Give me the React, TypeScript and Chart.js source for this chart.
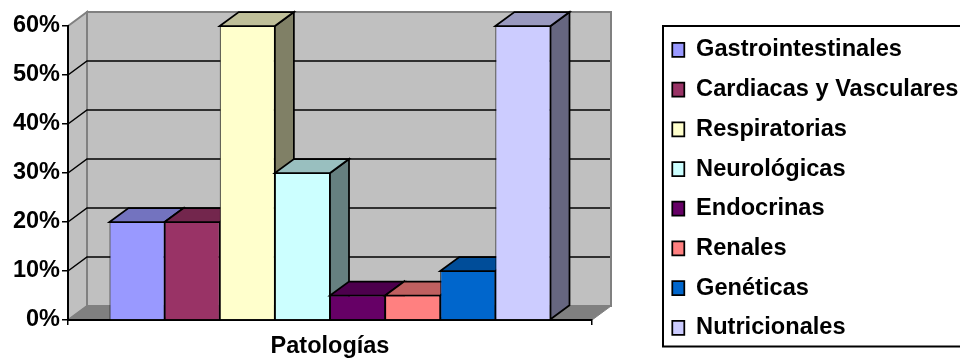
import React, { useEffect, useRef } from "react";
import { Chart, registerables } from "chart.js";

Chart.register(...registerables);

const categories = ["Patologías"];
const seriesNames = [
  "Gastrointestinales",
  "Cardiacas y Vasculares",
  "Respiratorias",
  "Neurológicas",
  "Endocrinas",
  "Renales",
  "Genéticas",
  "Nutricionales",
];
const seriesValues = [20, 20, 60, 30, 5, 5, 10, 60];
const seriesColors = ["#9999FF", "#993366", "#FFFFCC", "#CCFFFF", "#660066", "#FF8080", "#0066CC", "#CCCCFF"];

const FONT_FAMILY = '"Liberation Sans", Arial, sans-serif';
const AXIS_FONT = { family: FONT_FAMILY, weight: "bold" as const, size: 23.5 };
const LEGEND_FONT = { family: FONT_FAMILY, weight: "bold" as const, size: 23.6 };
const DEPTH_X = 19;
const DEPTH_Y = 14;
const WALL = "#C0C0C0";
const WALL_EDGE = "#808080";
const FLOOR = "#808080";

function shade(hex: string, k: number) {
  const n = parseInt(hex.slice(1), 16);
  const c = [(n >> 16) & 255, (n >> 8) & 255, n & 255].map((v) => Math.round(v * k));
  return `rgb(${c[0]},${c[1]},${c[2]})`;
}

function poly(ctx: CanvasRenderingContext2D, pts: number[][], fill: string, stroke: string, lw: number) {
  ctx.beginPath();
  pts.forEach(([x, y], i) => (i ? ctx.lineTo(x, y) : ctx.moveTo(x, y)));
  ctx.closePath();
  ctx.fillStyle = fill;
  ctx.fill();
  ctx.strokeStyle = stroke;
  ctx.lineWidth = lw;
  ctx.stroke();
}

// Back wall, side wall, floor and the gridlines that run over them.
function drawWalls(chart: any) {
  const { ctx, chartArea: a, scales } = chart;
  const dx = DEPTH_X;
  const dy = DEPTH_Y;
  ctx.save();
  poly(ctx, [[a.left + dx, a.top - dy], [a.right + dx, a.top - dy], [a.right + dx, a.bottom - dy], [a.left + dx, a.bottom - dy]], WALL, WALL_EDGE, 2);
  poly(ctx, [[a.left, a.top], [a.left + dx, a.top - dy], [a.left + dx, a.bottom - dy], [a.left, a.bottom]], WALL, WALL_EDGE, 2);
  poly(ctx, [[a.left, a.bottom], [a.left + dx, a.bottom - dy], [a.right + dx, a.bottom - dy], [a.right, a.bottom]], FLOOR, FLOOR, 1);
  ctx.strokeStyle = "#000";
  ctx.lineWidth = 1.5;
  scales.y.ticks.forEach((t: any) => {
    if (t.value <= scales.y.min || t.value >= scales.y.max) return;
    const y = scales.y.getPixelForValue(t.value);
    ctx.beginPath();
    ctx.moveTo(a.left, y);
    ctx.lineTo(a.left + dx, y - dy);
    ctx.lineTo(a.right + dx - 1, y - dy);
    ctx.stroke();
  });
  ctx.restore();
}

// Paints the bars left to right: each one's side and top, then the library's own front face.
function drawBars(chart: any) {
  const { ctx } = chart;
  const dx = DEPTH_X;
  const dy = DEPTH_Y;
  ctx.save();
  ctx.lineJoin = "miter";
  seriesColors.forEach((color, i) => {
    const bar = chart.getDatasetMeta(i).data[0];
    const { x, y, base, width } = bar.getProps(["x", "y", "base", "width"]);
    const l = x - width / 2;
    const r = x + width / 2;
    poly(ctx, [[r, y], [r + dx, y - dy], [r + dx, base - dy], [r, base]], shade(color, 0.5), "#000", 1.75);
    poly(ctx, [[l, y], [l + dx, y - dy], [r + dx, y - dy], [r, y]], shade(color, 0.75), "#000", 1.75);
    bar.draw(ctx, chart.chartArea);
  });
  ctx.restore();
}

const chartDecor = {
  id: "chartDecor",
  beforeLayout(chart: any) {
    // The legend floats in its own frame, so it takes no room from the plot.
    const legend = chart.legend;
    if (legend && !legend.__wrapped) {
      const fit = legend.fit;
      legend.fit = function () {
        this.maxHeight = 1000;
        fit.call(this);
        this.width = 0;
      };
      legend.__wrapped = true;
    }
  },
  afterLayout(chart: any) {
    const legend = chart.legend;
    legend.left = 656.2;
    legend.right = 1000;
    legend.top = 22;
    legend.bottom = 400;
    legend.width = 343.8;
    legend.height = 378;
  },
  beforeDraw(chart: any) {
    drawWalls(chart);
    const { ctx } = chart;
    ctx.save();
    ctx.strokeStyle = "#000";
    ctx.lineWidth = 2;
    ctx.strokeRect(663, 26, 320, 320.5);
    ctx.restore();
  },
  beforeDatasetsDraw(chart: any) {
    drawBars(chart);
    return false;
  },
};

export default function App() {
  const ref = useRef<HTMLCanvasElement>(null);
  useEffect(() => {
    const chart = new Chart(ref.current!, {
      type: "bar",
      data: {
        labels: categories,
        datasets: seriesNames.map((label, i) => ({
          label,
          data: [seriesValues[i]],
          backgroundColor: seriesColors[i],
          borderColor: "#000",
          borderWidth: 1,
          categoryPercentage: 0.8416,
          barPercentage: 1,
        })),
      },
      options: {
        animation: false,
        responsive: false,
        events: [],
        layout: { padding: { top: 26, right: 368, left: 0, bottom: 0 } },
        plugins: {
          title: { display: false },
          tooltip: { enabled: false },
          legend: {
            position: "right",
            align: "start",
            labels: {
              color: "#000",
              font: LEGEND_FONT,
              boxWidth: 12,
              boxHeight: 14,
              padding: 16.1,
              generateLabels: (c: any) =>
                Chart.defaults.plugins.legend.labels.generateLabels(c).map((l: any) => ({ ...l, lineWidth: 1.75 })),
            },
          },
        },
        scales: {
          x: {
            afterFit: (s: any) => { s.height = 38; },
            grid: { drawOnChartArea: false, color: "#000", lineWidth: 1.5, tickLength: 5 },
            border: { color: "#000", width: 2 },
            ticks: { color: "#000", font: AXIS_FONT, padding: 7, maxRotation: 0 },
          },
          y: {
            min: 0,
            max: 60,
            afterFit: (s: any) => { s.width = 68; },
            grid: { drawOnChartArea: false, color: "#000", lineWidth: 1.5, tickLength: 6 },
            border: { color: "#000", width: 2 },
            ticks: {
              stepSize: 10,
              color: "#000",
              font: AXIS_FONT,
              padding: 2,
              callback: (v: any) => `${v}%`,
            },
          },
        },
      },
      plugins: [chartDecor],
    } as any);
    return () => chart.destroy();
  }, []);
  return (
    <div style={{ position: "absolute", left: 0, top: 0, width: 960, height: 358, overflow: "hidden", background: "#fff" }}>
      <canvas ref={ref} width={960} height={358} style={{ display: "block" }} />
    </div>
  );
}
